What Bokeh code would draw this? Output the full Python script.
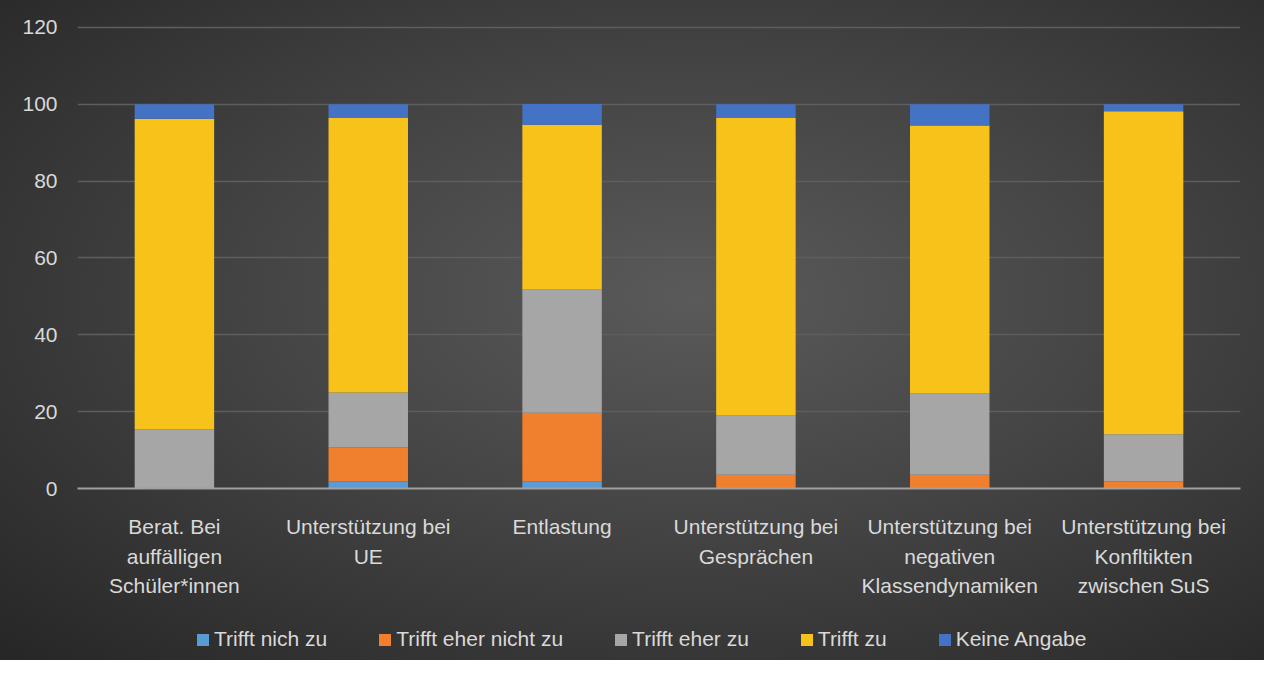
from bokeh.plotting import figure
from bokeh.models import FactorRange, Legend, LegendItem, FixedTicker, CategoricalAxis, Range1d
from bokeh.layouts import column
from bokeh.embed import file_html
from bokeh.resources import INLINE

categories = ["Berat. Bei auffälligen Schüler*innen", "Unterstützung bei UE", "Entlastung",
              "Unterstützung bei Gesprächen", "Unterstützung bei negativen Klassendynamiken",
              "Unterstützung bei Konfltikten zwischen SuS"]
tick_labels = [["Berat. Bei", "auffälligen", "Schüler*innen"], ["Unterstützung bei", "UE"], ["Entlastung"],
               ["Unterstützung bei", "Gesprächen"], ["Unterstützung bei", "negativen", "Klassendynamiken"],
               ["Unterstützung bei", "Konfltikten", "zwischen SuS"]]
y_ticks = [0, 20, 40, 60, 80, 100, 120]
series = ["Trifft nich zu", "Trifft eher nicht zu", "Trifft eher zu", "Trifft zu", "Keine Angabe"]
trifft_nich_zu = [0.0, 1.8, 1.8, 0.0, 0.0, 0.0]
trifft_eher_nicht_zu = [0.0, 8.9, 17.9, 3.6, 3.6, 1.8]
trifft_eher_zu = [15.4, 14.3, 32.1, 15.4, 21.1, 12.3]
trifft_zu = [80.8, 71.4, 42.9, 77.4, 69.8, 84.1]
keine_angabe = [3.8, 3.6, 5.4, 3.6, 5.5, 1.8]
colors = ["#5b9bd5", "#f07f2e", "#a6a6a6", "#f7c31a", "#4472c4"]

FONT = "Liberation Sans"
FS = "21px"
TXT = "#d9d9d9"
BG_CSS = "radial-gradient(ellipse farthest-corner at 55% 45%, #5a5a5a 0%, #444444 45%, #262626 100%)"

data = dict(cat=categories, s0=trifft_nich_zu, s1=trifft_eher_nicht_zu, s2=trifft_eher_zu,
            s3=trifft_zu, s4=keine_angabe)

p = figure(x_range=FactorRange(*categories, range_padding=0), y_range=Range1d(0, 120.5),
           width=1264, height=600, output_backend="svg", toolbar_location=None,
           min_border_left=77, min_border_right=24, min_border_top=25, min_border_bottom=112)
p.background_fill_alpha = 0
p.border_fill_alpha = 0
p.outline_line_color = None

rs = p.vbar_stack(["s0", "s1", "s2", "s3", "s4"], x="cat", width=0.41, color=colors,
                  line_color=None, source=data)

p.yaxis.ticker = FixedTicker(ticks=y_ticks)
p.yaxis.axis_line_color = None
p.yaxis.major_tick_line_color = None
p.yaxis.minor_tick_line_color = None
p.yaxis.major_tick_out = 0
p.yaxis.major_label_text_color = TXT
p.yaxis.major_label_text_font = FONT
p.yaxis.major_label_text_font_size = FS
p.yaxis.major_label_standoff = 20

p.xaxis.visible = False

# category labels: one extra axis per text line, each with its own factor range
for i, standoff in zip(range(3), (26, 4, 3)):
    factors = []
    for k, lines in enumerate(tick_labels):
        txt = lines[i] if i < len(lines) else ""
        factors.append(txt + "\u200b" * (k + 1))
    name = f"line{i}"
    p.extra_x_ranges[name] = FactorRange(*factors, range_padding=0)
    ax = CategoricalAxis(x_range_name=name)
    ax.axis_line_color = "#a0a0a0" if i == 0 else None
    ax.axis_line_width = 2
    ax.major_tick_line_color = None
    ax.minor_tick_line_color = None
    ax.major_tick_out = 0
    ax.major_tick_in = 0
    ax.major_label_text_color = TXT
    ax.major_label_text_font = FONT
    ax.major_label_text_font_size = FS
    ax.major_label_standoff = standoff
    ax.major_label_orientation = "horizontal"
    p.add_layout(ax, "below")

p.xgrid.grid_line_color = None
p.ygrid.grid_line_color = "#5e5e5e"
p.ygrid.grid_line_width = 1.5

# legend in its own strip below the chart (swatch renderers hold no visible point)
q = figure(width=1264, height=60, output_backend="svg", toolbar_location=None,
           x_range=(0, 1), y_range=(0, 1), min_border=0)
q.background_fill_alpha = 0
q.border_fill_alpha = 0
q.outline_line_color = None
q.axis.visible = False
q.grid.visible = False
nan = float("nan")
swatches = [q.rect(x=[nan], y=[nan], width=[nan], height=[nan], fill_color=c, line_color=None)
            for c in colors]
legend = Legend(items=[LegendItem(label=s, renderers=[r]) for s, r in zip(series, swatches)],
                orientation="horizontal", location=(118, 9),
                label_text_color=TXT, label_text_font=FONT, label_text_font_size=FS,
                glyph_width=15, glyph_height=15, spacing=50, label_standoff=4,
                background_fill_alpha=0, border_line_color=None)
q.add_layout(legend)

layout = column(p, q, spacing=0, styles={"background": BG_CSS})
open("out.html", "w").write(file_html(layout, INLINE))
